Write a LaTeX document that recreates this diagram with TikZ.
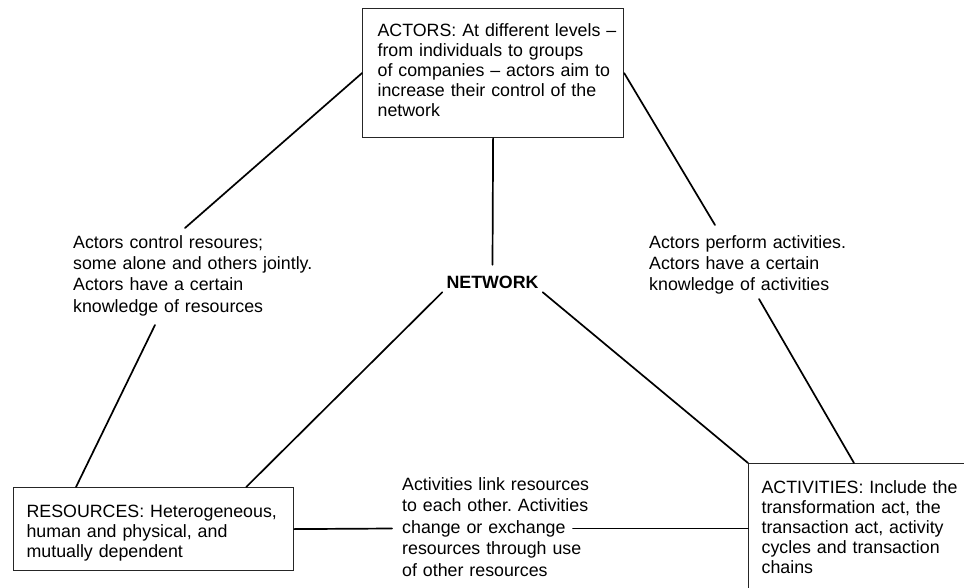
\documentclass[tikz,border=0pt]{standalone}
\usepackage{fontspec}
\setmainfont{Liberation Sans}
\usetikzlibrary{calc}
\hfuzz=20pt
\begin{document}
\frenchspacing
\begin{tikzpicture}[x=1pt,y=-1pt,
  every node/.style={font=\fontsize{17.8}{20}\selectfont},
  box/.style={draw=black!85, line width=1.2pt, align=left, inner ysep=0pt, anchor=north west},
  note/.style={align=left, inner sep=0pt, anchor=base west, text width=270pt,
    font=\fontsize{17.8}{21.4}\selectfont},
  link/.style={line width=1.7pt, line cap=round}]

% the three corner boxes
\node[box, inner xsep=15pt, text width=231pt, text height=28pt, text depth=101pt]
  (actors) at (362,8) {\mbox{ACTORS: At different levels –}\\ from individuals to groups\\
  \mbox{of companies – actors aim to}\\ increase their control of the\\ network};
\node[box, inner xsep=13pt, text width=254pt, text height=30pt, text depth=53pt]
  (res) at (13,487) {RESOURCES: Heterogeneous,\\ human and physical, and\\ mutually dependent};
\node[box, inner xsep=13pt, text width=240pt, text height=30pt, text depth=140pt]
  (act) at (748,463) {ACTIVITIES: Include the\\ transformation act, the\\
  transaction act, activity\\ cycles and transaction\\ chains};

% centre label
\node[font=\bfseries\fontsize{17.8}{20}\selectfont, inner sep=4pt, text height=19pt,
  text depth=0pt, anchor=base] (net) at (492.5,288) {NETWORK};

% relation notes
\node[note] (lnote) at (73,248) {Actors control resoures;\\ some alone and others jointly.\\
  Actors have a certain\\ knowledge of resources};
\node[note] (rnote) at (649,248) {Actors perform activities.\\ Actors have a certain\\
  knowledge of activities};
\node[note] (mnote) at (402,490.5) {Activities link resources\\ to each other. Activities\\
  change or exchange\\ resources through use\\ of other resources};

% free ends of the connectors at the notes
\coordinate (lnoteTop) at (185,228);
\coordinate (lnoteBot) at (155,325);
\coordinate (rnoteTop) at (715,225);
\coordinate (rnoteBot) at (759,299);
\coordinate (mnoteL) at (392,528.5);
\coordinate (mnoteR) at (573,528.5);

% connectors
\draw[link] (actors.west) -- (lnoteTop);
\draw[link] (lnoteBot) -- ($(res.north west)+(63,0)$);
\draw[link] (actors.east) -- (rnoteTop);
\draw[link] (rnoteBot) -- ($(act.north west)+(106,0)$);
\draw[link] (actors.south) -- (net.north);
\draw[link] (net.south west) -- ($(res.north east)+(-48,0)$);
\draw[link] (net.south east) -- (act.north west);
\draw[link] (res.east) -- (mnoteL);
\draw[link] (mnoteR) -- (mnoteR -| act.west);

\pgfresetboundingbox
\useasboundingbox (0,0) rectangle (964,588);
\end{tikzpicture}
\end{document}
